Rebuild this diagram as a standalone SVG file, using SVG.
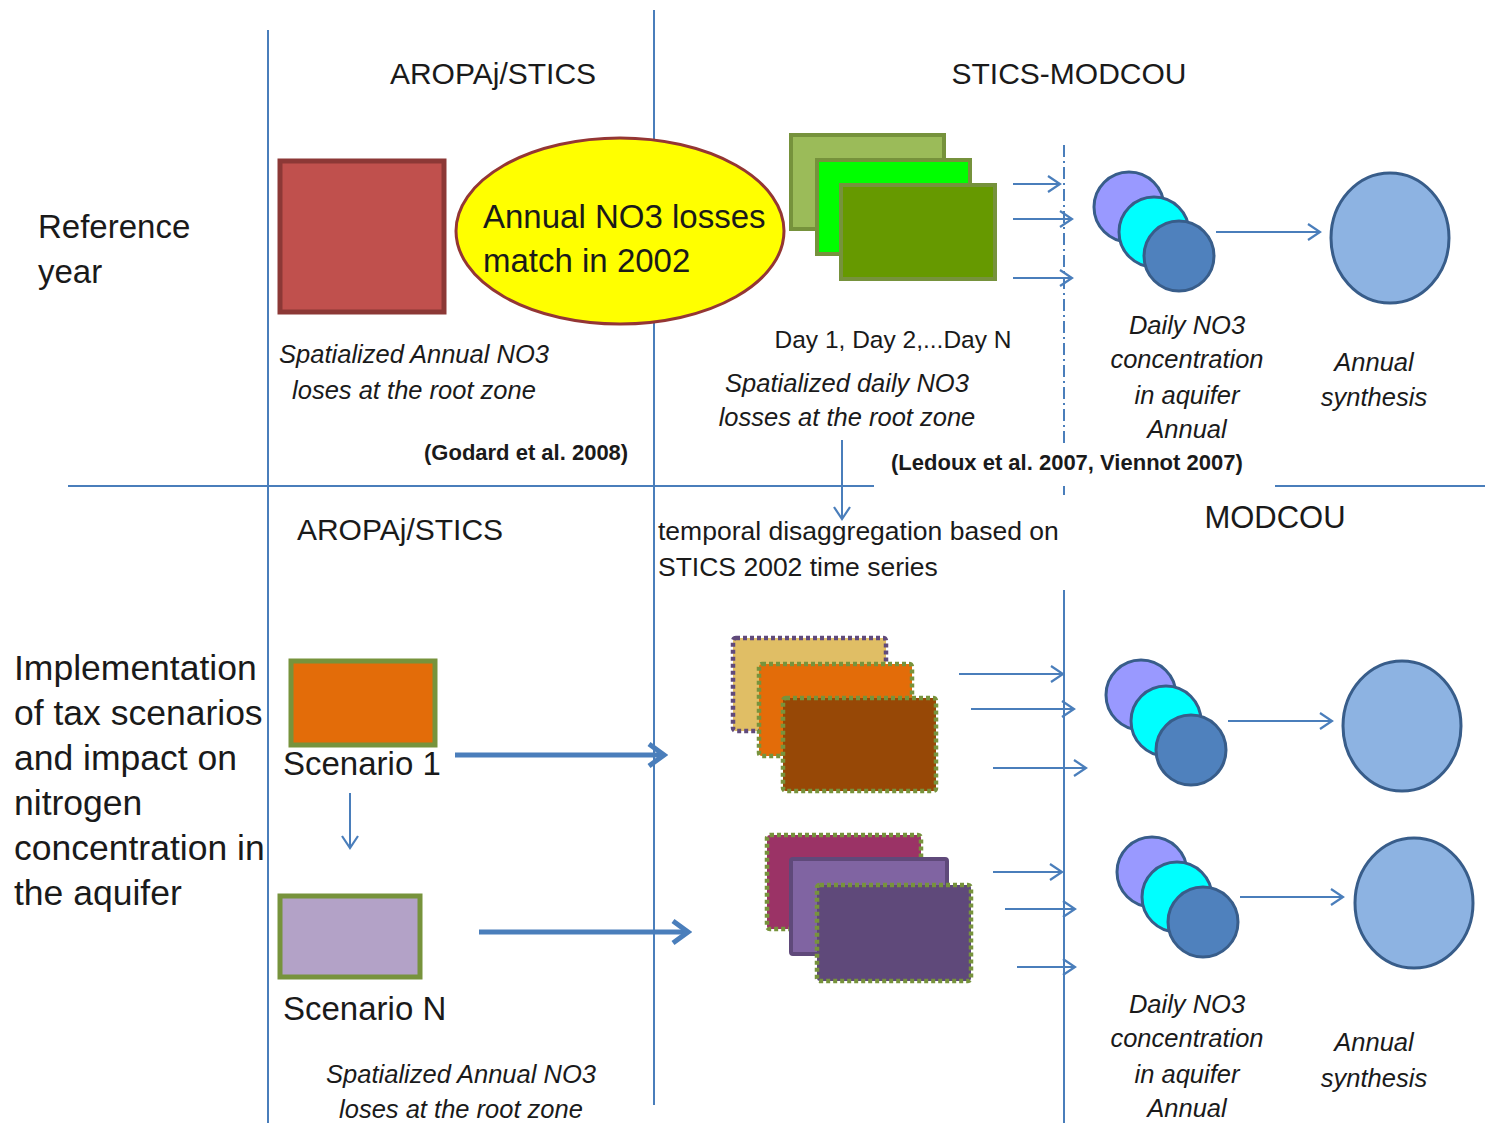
<svg xmlns="http://www.w3.org/2000/svg" width="1485" height="1123" viewBox="0 0 1485 1123">
<style>
text{font-family:"Liberation Sans",Arial,sans-serif;fill:#1a1a1a}
.hd{font-size:30px}
.lb{font-size:33px}
.lt{font-size:35.5px}
.it{font-size:25.5px;font-style:italic}
.bd{font-size:22px;font-weight:bold}
.mid{text-anchor:middle}
.ln{stroke:#4A7EBB;stroke-width:2;fill:none}
.ar{stroke:#4A7EBB;stroke-width:2;fill:none;marker-end:url(#ah)}
.tk{stroke:#4A7EBB;stroke-width:5;fill:none;marker-end:url(#ahb)}
.c1{fill:#9999FF;stroke:#385D8A;stroke-width:3}
.c2{fill:#00FFFF;stroke:#385D8A;stroke-width:3}
.c3{fill:#4F81BD;stroke:#385D8A;stroke-width:3}
.big{fill:#8DB3E2;stroke:#385D8A;stroke-width:3}
.dot{stroke-width:4.5;stroke-dasharray:4 3}
</style>
<defs>
<marker id="ah" markerUnits="userSpaceOnUse" markerWidth="16" markerHeight="18" refX="13" refY="9" orient="auto">
<path d="M1,1 L13,9 L1,17" fill="none" stroke="#4A7EBB" stroke-width="2.2"/>
</marker>
<marker id="ahb" markerUnits="userSpaceOnUse" markerWidth="22" markerHeight="28" refX="18" refY="14" orient="auto">
<path d="M3,3 L18,14 L3,25" fill="none" stroke="#4A7EBB" stroke-width="5"/>
</marker>
</defs>
<rect width="1485" height="1123" fill="#fff"/>

<g id="grid">
<line class="ln" x1="268" y1="30" x2="268" y2="1123"/>
<line class="ln" x1="654" y1="10" x2="654" y2="1105"/>
<line class="ln" x1="68" y1="486" x2="874" y2="486"/>
<line class="ln" x1="1275" y1="486" x2="1485" y2="486"/>
<line class="ln" x1="1064" y1="145" x2="1064" y2="446" stroke-dasharray="12 4 2 4"/>
<line class="ln" x1="1064" y1="486" x2="1064" y2="495"/>
<line class="ln" x1="1064" y1="590" x2="1064" y2="1123"/>
</g>

<g id="headers">
<text class="hd mid" x="493" y="84">AROPAj/STICS</text>
<text class="hd mid" x="1069" y="84">STICS-MODCOU</text>
<text class="hd mid" x="400" y="540">AROPAj/STICS</text>
<text class="hd mid" x="1275" y="528" style="font-size:31px">MODCOU</text>
</g>

<g id="row-labels">
<text class="lb" x="38" y="238">Reference</text>
<text class="lb" x="38" y="283">year</text>
<text class="lt" x="14" y="680">Implementation</text>
<text class="lt" x="14" y="725">of tax scenarios</text>
<text class="lt" x="14" y="770">and impact on</text>
<text class="lt" x="14" y="815">nitrogen</text>
<text class="lt" x="14" y="860">concentration in</text>
<text class="lt" x="14" y="905">the aquifer</text>
</g>

<g id="annual-losses-ref">
<rect x="280" y="161" width="164" height="151" fill="#C0504D" stroke="#8C3836" stroke-width="5"/>
<text class="it mid" x="414" y="363">Spatialized Annual NO3</text>
<text class="it mid" x="414" y="399">loses at the root zone</text>
<text class="bd" x="424" y="460">(Godard et al. 2008)</text>
</g>

<g id="match-ellipse">
<ellipse cx="620" cy="231" rx="164" ry="93" fill="#FFFF00" stroke="#943634" stroke-width="3"/>
<text x="483" y="228" style="font-size:33px">Annual NO3 losses</text>
<text x="483" y="272" style="font-size:33px">match in 2002</text>
</g>

<g id="daily-losses-ref">
<rect x="791" y="135" width="153" height="94" fill="#9BBB59" stroke="#76923C" stroke-width="4"/>
<rect x="817" y="160" width="153" height="94" fill="#00FF00" stroke="#76923C" stroke-width="4"/>
<rect x="841" y="185" width="154" height="94" fill="#669900" stroke="#76923C" stroke-width="4"/>
<text class="mid" x="893" y="348" style="font-size:24.5px">Day 1, Day 2,...Day N</text>
<text class="it mid" x="847" y="392">Spatialized daily NO3</text>
<text class="it mid" x="847" y="426">losses at the root zone</text>
</g>

<g id="aquifer-ref">
<circle class="c1" cx="1129" cy="207" r="35"/>
<circle class="c2" cx="1154" cy="232" r="35"/>
<circle class="c3" cx="1179" cy="256" r="35"/>
<text class="it mid" x="1187" y="334">Daily NO3</text>
<text class="it mid" x="1187" y="368">concentration</text>
<text class="it mid" x="1187" y="404">in aquifer</text>
<text class="it mid" x="1187" y="438">Annual</text>
</g>

<g id="synthesis-ref">
<ellipse class="big" cx="1390" cy="238" rx="59" ry="65"/>
<text class="it mid" x="1374" y="371">Annual</text>
<text class="it mid" x="1374" y="406">synthesis</text>
</g>

<g id="ledoux">
<text class="bd" x="891" y="470">(Ledoux et al. 2007, Viennot 2007)</text>
</g>

<g id="disagg-label">
<text x="658" y="540" style="font-size:26.5px">temporal disaggregation based on</text>
<text x="658" y="576" style="font-size:26.5px">STICS 2002 time series</text>
</g>

<g id="scenario-1">
<rect x="291" y="661" width="144" height="84" fill="#E36C09" stroke="#77933C" stroke-width="5"/>
<text class="lb" x="283" y="775">Scenario 1</text>
</g>

<g id="scenario-n">
<rect x="280" y="896" width="140" height="81" fill="#B3A2C7" stroke="#77933C" stroke-width="5"/>
<text class="lb" x="283" y="1020">Scenario N</text>
<text class="it mid" x="461" y="1083">Spatialized Annual NO3</text>
<text class="it mid" x="461" y="1118">loses at the root zone</text>
</g>

<g id="daily-scen-1">
<rect class="dot" x="733" y="638" width="153" height="93" rx="3" fill="#E0BE65" stroke="#604A7B"/>
<rect class="dot" x="759" y="664" width="153" height="92" rx="3" fill="#E36C09" stroke="#77933C"/>
<rect class="dot" x="783" y="698" width="153" height="93" rx="3" fill="#974806" stroke="#77933C"/>
</g>

<g id="daily-scen-n">
<rect class="dot" x="767" y="835" width="154" height="94" rx="3" fill="#9B3366" stroke="#77933C"/>
<rect x="791" y="859" width="156" height="95" rx="2" fill="#8064A2" stroke="#5F497A" stroke-width="4"/>
<rect class="dot" x="817" y="885" width="154" height="96" rx="3" fill="#5F497A" stroke="#77933C"/>
</g>

<g id="aquifer-scen-1">
<circle class="c1" cx="1141" cy="695" r="35"/>
<circle class="c2" cx="1166" cy="721" r="35"/>
<circle class="c3" cx="1191" cy="750" r="35"/>
</g>

<g id="synthesis-scen-1">
<ellipse class="big" cx="1402" cy="726" rx="59" ry="65"/>
</g>

<g id="aquifer-scen-n">
<circle class="c1" cx="1152" cy="872" r="35"/>
<circle class="c2" cx="1177" cy="897" r="35"/>
<circle class="c3" cx="1203" cy="922" r="35"/>
<text class="it mid" x="1187" y="1013">Daily NO3</text>
<text class="it mid" x="1187" y="1047">concentration</text>
<text class="it mid" x="1187" y="1083">in aquifer</text>
<text class="it mid" x="1187" y="1117">Annual</text>
</g>

<g id="synthesis-scen-n">
<ellipse class="big" cx="1414" cy="903" rx="59" ry="65"/>
<text class="it mid" x="1374" y="1051">Annual</text>
<text class="it mid" x="1374" y="1087">synthesis</text>
</g>

<g id="connectors">
<line class="ar" x1="1013" y1="184" x2="1060" y2="184"/>
<line class="ar" x1="1013" y1="219" x2="1072" y2="219"/>
<line class="ar" x1="1013" y1="278" x2="1072" y2="278"/>
<line class="ar" x1="1216" y1="232" x2="1320" y2="232"/>
<line class="ar" x1="842" y1="440" x2="842" y2="519"/>
<line class="ar" x1="350" y1="793" x2="350" y2="848"/>
<line class="tk" x1="455" y1="755" x2="664" y2="755"/>
<line class="tk" x1="479" y1="932" x2="688" y2="932"/>
<line class="ar" x1="959" y1="674" x2="1063" y2="674"/>
<line class="ar" x1="971" y1="709" x2="1074" y2="709"/>
<line class="ar" x1="993" y1="768" x2="1086" y2="768"/>
<line class="ar" x1="1228" y1="721" x2="1332" y2="721"/>
<line class="ar" x1="993" y1="872" x2="1062" y2="872"/>
<line class="ar" x1="1005" y1="909" x2="1075" y2="909"/>
<line class="ar" x1="1017" y1="967" x2="1075" y2="967"/>
<line class="ar" x1="1240" y1="897" x2="1343" y2="897"/>
</g>
</svg>
